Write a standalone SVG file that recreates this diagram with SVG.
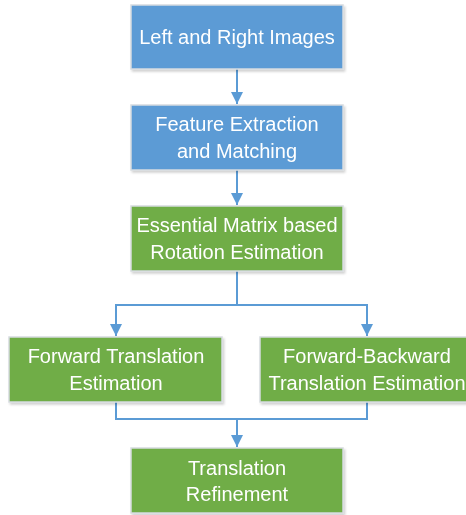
<svg xmlns="http://www.w3.org/2000/svg" width="466" height="515" viewBox="0 0 466 515">
<defs>
<style>
.box{stroke:#d6dbe0;stroke-width:1.5}
.blue{fill:#5b9bd5}
.green{fill:#70ad47}
.t{font-family:"Liberation Sans",Arial,sans-serif;font-size:20px;fill:#ffffff;text-anchor:middle}
.c{fill:none;stroke:#5b9bd5;stroke-width:2}
</style>
<marker id="ah" viewBox="0 0 10 10" refX="10" refY="5" markerWidth="6" markerHeight="6" markerUnits="strokeWidth" orient="auto">
<path d="M0,0 L10,5 L0,10 z" fill="#5b9bd5"/>
</marker>
<filter id="sh" x="-10%" y="-10%" width="130%" height="130%">
<feDropShadow dx="1.5" dy="2" stdDeviation="1.2" flood-color="#000" flood-opacity="0.18"/>
</filter>
</defs>
<rect width="466" height="515" fill="#ffffff"/>
<g id="connectors">
<path class="c" d="M237,69 V104" marker-end="url(#ah)"/>
<path class="c" d="M237,170 V205" marker-end="url(#ah)"/>
<path class="c" d="M237,271 V305 H116 V336" marker-end="url(#ah)"/>
<path class="c" d="M237,305 H367 V336" marker-end="url(#ah)"/>
<path class="c" d="M116,402 V419 H367 V402"/>
<path class="c" d="M237,419 V447" marker-end="url(#ah)"/>
</g>
<g id="n1" filter="url(#sh)">
<rect class="box blue" x="131" y="5" width="212" height="64"/>
<text class="t" x="237" y="44">Left and Right Images</text>
</g>
<g id="n2" filter="url(#sh)">
<rect class="box blue" x="131" y="105" width="212" height="65"/>
<text class="t" x="237" y="131">Feature Extraction</text>
<text class="t" x="237" y="158">and Matching</text>
</g>
<g id="n3" filter="url(#sh)">
<rect class="box green" x="131" y="206" width="212" height="65"/>
<text class="t" x="237" y="232">Essential Matrix based</text>
<text class="t" x="237" y="259">Rotation Estimation</text>
</g>
<g id="n4" filter="url(#sh)">
<rect class="box green" x="9" y="337" width="213" height="65"/>
<text class="t" x="116" y="363">Forward Translation</text>
<text class="t" x="116" y="390">Estimation</text>
</g>
<g id="n5" filter="url(#sh)">
<rect class="box green" x="260" y="337" width="214" height="65"/>
<text class="t" x="367" y="363">Forward-Backward</text>
<text class="t" x="367" y="390">Translation Estimation</text>
</g>
<g id="n6" filter="url(#sh)">
<rect class="box green" x="131" y="448" width="212" height="65"/>
<text class="t" x="237" y="475">Translation</text>
<text class="t" x="237" y="501">Refinement</text>
</g>
</svg>
